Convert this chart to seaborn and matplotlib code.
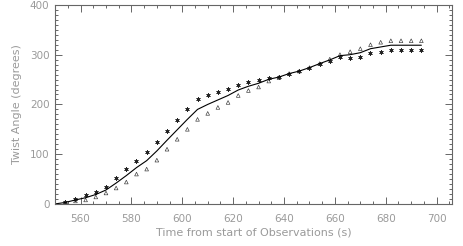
# libraries
import numpy as np
import pandas as pd
import matplotlib
matplotlib.use('Agg')
import matplotlib.pyplot as plt
from matplotlib.ticker import MultipleLocator, AutoMinorLocator
import seaborn as sns

# data
time_s = [554 + 4 * k for k in range(36)]
twist_star = [4, 10, 17, 24, 34, 52, 70, 86, 104, 125,
              146, 168, 190, 210, 218, 224, 232, 240, 245, 250,
              254, 256, 262, 267, 274, 282, 288, 296, 294, 296,
              304, 306, 310, 310, 310, 310]
twist_tri = [2, 6, 8, 14, 22, 32, 44, 60, 70, 88,
             110, 130, 150, 170, 182, 194, 204, 218, 228, 235,
             247, 254, 262, 267, 274, 282, 291, 300, 306, 312,
             320, 325, 328, 328, 328, 328]
line_start = (550, 0)

stars = pd.DataFrame({'time': time_s, 'twist': twist_star})
tris = pd.DataFrame({'time': time_s, 'twist': twist_tri})
mean = pd.DataFrame({'time': time_s,
                     'twist': (np.array(twist_star) + np.array(twist_tri)) / 2})
mean = pd.concat([pd.DataFrame({'time': [line_start[0]], 'twist': [line_start[1]]}), mean],
                 ignore_index=True)

sns.set_style('ticks')
plt.rcParams['font.family'] = ['DejaVu Sans']
text_col = '#9a9a9a'
axis_col = '#666666'

fig = plt.figure(figsize=(4.63, 2.46), dpi=100)
ax = fig.add_axes([0.119, 0.171, 0.857, 0.809])

sns.lineplot(data=mean, x='time', y='twist', color='black', lw=0.8, ax=ax)
sns.scatterplot(data=stars, x='time', y='twist', marker=(6, 2, 0), s=8,
                color='#222222', linewidth=0.5, ax=ax)
sns.scatterplot(data=tris, x='time', y='twist', marker='^', s=7,
                facecolor='none', edgecolor='#333333', linewidth=0.45, ax=ax)

ax.set_xlim(550, 706)
ax.set_ylim(0, 400)
ax.xaxis.set_major_locator(MultipleLocator(20))
ax.xaxis.set_minor_locator(AutoMinorLocator(4))
ax.yaxis.set_major_locator(MultipleLocator(100))
ax.yaxis.set_minor_locator(AutoMinorLocator(10))
ax.tick_params(which='both', direction='in', top=True, right=True,
               color=axis_col, width=0.7, labelcolor=text_col, labelsize=7.5)
ax.tick_params(axis='x', pad=7)
ax.tick_params(axis='y', pad=4)
ax.tick_params(which='major', length=5)
ax.tick_params(which='minor', length=2.5)
for sp in ax.spines.values():
    sp.set_color(axis_col)
    sp.set_linewidth(0.8)

ax.set_xlabel('Time from start of Observations (s)', color=text_col, fontsize=8, labelpad=3)
ax.set_ylabel('Twist Angle (degrees)', color=text_col, fontsize=8, labelpad=6)

fig.savefig('out.png', dpi=100)
